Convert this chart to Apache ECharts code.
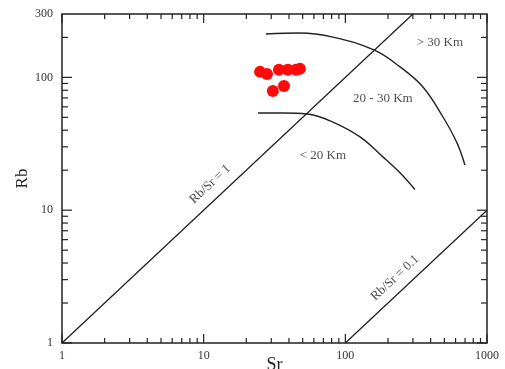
<!DOCTYPE html>
<html>
<head>
<meta charset="utf-8">
<script src="https://cdn.jsdelivr.net/npm/echarts@6/dist/echarts.min.js"></script>
<style>
  html, body { margin: 0; padding: 0; background: #fff; }
  #chart { width: 505px; height: 369px; }
</style>
</head>
<body>
<div id="chart"></div>
<script>
// Sample compositions (Sr, Rb in ppm)
const sampleSr = [25.0, 28.0, 34.0, 39.3, 44.8, 47.8, 30.8, 36.9];
const sampleRb = [110, 106, 114, 114, 114, 116, 79, 86];

// Crustal-thickness boundaries
const curveDeepSr = [27.5, 47.8, 81.7, 159, 243, 353, 489, 614, 698];
const curveDeepRb = [212, 216, 201, 161, 120, 84.7, 50.3, 32.1, 21.9];
const curveShallowSr = [24.2, 36.3, 53.6, 81.7, 127, 184, 243, 310];
const curveShallowRb = [53.9, 53.9, 53.0, 46.1, 35.6, 25.2, 19.1, 14.3];

// Reference ratio lines
const ratioOneSr = [1, 300];
const ratioOneRb = [1, 300];
const ratioTenthSr = [100, 1000];
const ratioTenthRb = [1, 10];

// Field annotations
const labelTexts = ['> 30 Km', '20 - 30 Km', '< 20 Km', 'Rb/Sr = 1', 'Rb/Sr = 0.1'];
const labelSr = [465, 184, 69.5, 11.1, 224];
const labelRb = [182, 68.8, 25.6, 15.7, 3.09];
const labelAngle = [0, 0, 0, 43, 43];

// Axis ticks
const xMajorTicks = [1, 10, 100, 1000];
const xMinorTicks = [2, 3, 4, 5, 6, 7, 8, 9, 20, 30, 40, 50, 60, 70, 80, 90, 200, 300, 400, 500, 600, 700, 800, 900];
const yMajorTicks = [1, 10, 100];
const yMinorTicks = [2, 3, 4, 5, 6, 7, 8, 9, 20, 30, 40, 50, 60, 70, 80, 90, 200];

const X_MIN = 1, X_MAX = 1000, Y_MIN = 1, Y_MAX = 300;
const serif = '"Liberation Serif", "DejaVu Serif", serif';
const ink = '#222';

const zip = (a, b) => a.map((v, i) => [v, b[i]]);

const xTickData = xMajorTicks.map(v => [v, Y_MIN, 1]).concat(xMinorTicks.map(v => [v, Y_MIN, 0]));
const yTickData = yMajorTicks.map(v => [X_MIN, v, 1]).concat(yMinorTicks.map(v => [X_MIN, v, 0]));

function lineShape(x1, y1, x2, y2) {
  return { type: 'line', shape: { x1, y1, x2, y2 }, style: { stroke: ink, lineWidth: 1.2 } };
}

const chart = echarts.init(document.getElementById('chart'), null, { renderer: 'canvas' });

chart.setOption({
  animation: false,
  backgroundColor: '#fff',
  grid: {
    left: 62, right: 18, top: 14, bottom: 26,
    outerBoundsMode: 'none', containLabel: false,
    show: true, borderColor: ink, borderWidth: 1.5, backgroundColor: 'transparent'
  },
  xAxis: {
    type: 'log', logBase: 10, min: X_MIN, max: X_MAX,
    name: 'Sr', nameLocation: 'middle', nameGap: 13, nameMoveOverlap: false,
    nameTextStyle: { fontFamily: serif, fontSize: 18, color: ink },
    axisLine: { show: false },
    axisTick: { show: false },
    splitLine: { show: false },
    axisLabel: {
      fontFamily: serif, fontSize: 12, color: '#333', margin: 7,
      formatter: v => String(Math.round(v))
    }
  },
  yAxis: {
    type: 'log', logBase: 10, min: Y_MIN, max: Y_MAX,
    name: 'Rb', nameLocation: 'middle', nameGap: 31, nameRotate: 90, nameMoveOverlap: false,
    nameTextStyle: { fontFamily: serif, fontSize: 17, color: ink },
    axisLine: { show: false },
    axisTick: { show: false },
    splitLine: { show: false },
    axisLabel: {
      fontFamily: serif, fontSize: 12, color: '#333', margin: 9,
      showMaxLabel: true,
      formatter: v => String(Math.round(v))
    }
  },
  series: [
    {
      type: 'custom', name: 'xTicks', silent: true, clip: false,
      data: xTickData,
      renderItem: (params, api) => {
        const v = api.value(0);
        const len = api.value(2) ? 9 : 5;
        const b = api.coord([v, Y_MIN]);
        const t = api.coord([v, Y_MAX]);
        return { type: 'group', children: [
          lineShape(b[0], b[1], b[0], b[1] - len),
          lineShape(t[0], t[1], t[0], t[1] + len)
        ] };
      }
    },
    {
      type: 'custom', name: 'yTicks', silent: true, clip: false,
      data: yTickData,
      renderItem: (params, api) => {
        const v = api.value(1);
        const len = api.value(2) ? 10 : 6;
        const l = api.coord([X_MIN, v]);
        const r = api.coord([X_MAX, v]);
        return { type: 'group', children: [
          lineShape(l[0], l[1], l[0] + len, l[1]),
          lineShape(r[0], r[1], r[0] - len, r[1])
        ] };
      }
    },
    {
      type: 'line', name: 'Rb/Sr = 1', data: zip(ratioOneSr, ratioOneRb),
      showSymbol: false, silent: true,
      lineStyle: { color: ink, width: 1.3 }
    },
    {
      type: 'line', name: 'Rb/Sr = 0.1', data: zip(ratioTenthSr, ratioTenthRb),
      showSymbol: false, silent: true,
      lineStyle: { color: ink, width: 1.3 }
    },
    {
      type: 'line', name: '30 Km', data: zip(curveDeepSr, curveDeepRb),
      smooth: 0.4, showSymbol: false, silent: true,
      lineStyle: { color: ink, width: 1.4 }
    },
    {
      type: 'line', name: '20 Km', data: zip(curveShallowSr, curveShallowRb),
      smooth: 0.4, showSymbol: false, silent: true,
      lineStyle: { color: ink, width: 1.4 }
    },
    {
      type: 'scatter', name: 'samples', data: zip(sampleSr, sampleRb),
      symbol: 'circle', symbolSize: 12,
      itemStyle: { color: '#ff0a0a', opacity: 1 }
    },
    {
      type: 'scatter', name: 'annotations', silent: true,
      symbolSize: 0,
      data: labelTexts.map((t, i) => ({
        value: [labelSr[i], labelRb[i]],
        label: { rotate: labelAngle[i] }
      })),
      label: {
        show: true, position: 'inside',
        formatter: p => labelTexts[p.dataIndex],
        fontFamily: serif, fontSize: 13, color: ink
      }
    }
  ]
});
</script>
</body>
</html>
